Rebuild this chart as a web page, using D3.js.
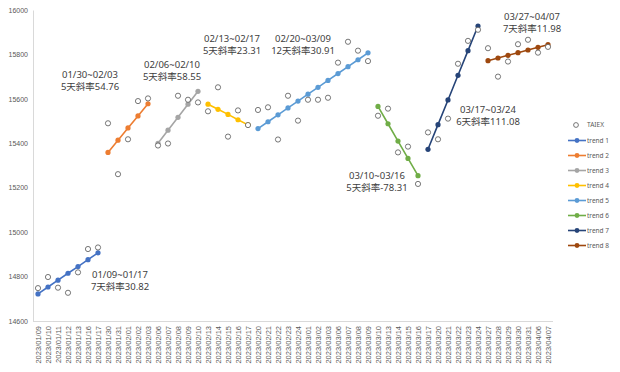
<!DOCTYPE html>
<html>
<head>
<meta charset="utf-8">
<script src="https://cdn.jsdelivr.net/npm/d3@7"></script>
<style>
  body { margin: 0; background: #fff; }
  svg { display: block; font-family: "Noto Sans", "Noto Sans CJK TC", sans-serif; }
</style>
</head>
<body>
<div id="chart"></div>
<script>
// trading days
var dates = ["2023/01/09","2023/01/10","2023/01/11","2023/01/12","2023/01/13","2023/01/16","2023/01/17",
  "2023/01/30","2023/01/31","2023/02/01","2023/02/02","2023/02/03",
  "2023/02/06","2023/02/07","2023/02/08","2023/02/09","2023/02/10",
  "2023/02/13","2023/02/14","2023/02/15","2023/02/16","2023/02/17",
  "2023/02/20","2023/02/21","2023/02/22","2023/02/23","2023/02/24","2023/03/01","2023/03/02","2023/03/03",
  "2023/03/06","2023/03/07","2023/03/08","2023/03/09",
  "2023/03/10","2023/03/13","2023/03/14","2023/03/15","2023/03/16",
  "2023/03/17","2023/03/20","2023/03/21","2023/03/22","2023/03/23","2023/03/24",
  "2023/03/27","2023/03/28","2023/03/29","2023/03/30","2023/03/31","2023/04/06","2023/04/07"];

var taiex = [14748,14798,14750,14727,14819,14924,14931,
  15490,15261,15418,15590,15602,
  15390,15399,15614,15596,15584,
  15544,15652,15430,15548,15482,
  15550,15562,15417,15614,15502,15596,15596,15605,15763,15857,15817,15770,
  15524,15556,15359,15385,15217,
  15449,15418,15511,15758,15861,15911,
  15828,15700,15768,15846,15866,15808,15834];

var trendNames = ["trend 1","trend 2","trend 3","trend 4","trend 5","trend 6","trend 7","trend 8"];
var trendStart = ["2023/01/09","2023/01/30","2023/02/06","2023/02/13","2023/02/20","2023/03/10","2023/03/17","2023/03/27"];
var trendValues = [
  [14722,14753,14784,14815,14845,14876,14907],
  [15359,15414,15469,15523,15578],
  [15400,15459,15517,15576,15634],
  [15576,15553,15530,15506,15483],
  [15466,15497,15528,15559,15590,15621,15652,15683,15714,15745,15776,15807],
  [15566,15488,15410,15332,15254],
  [15373,15484,15595,15706,15817,15928],
  [15772,15784,15796,15808,15820,15832,15844]
];
var trendRange = ["01/09~01/17","01/30~02/03","02/06~02/10","02/13~02/17","02/20~03/09","03/10~03/16","03/17~03/24","03/27~04/07"];
var trendSlope = ["7天斜率30.82","5天斜率54.76","5天斜率58.55","5天斜率23.31","12天斜率30.91","5天斜率-78.31","6天斜率111.08","7天斜率11.98"];
// where each note sits, in chart units
var noteDate = ["2023/01/31","2023/01/16","2023/02/07","2023/02/15","2023/02/24","2023/03/10","2023/03/27","2023/03/31"];
var noteValue = [14807,15710,15755,15873,15873,15252,15553,15968];

var yTicks = [14600,14800,15000,15200,15400,15600,15800,16000];

var colors = ["#4472C4","#ED7D31","#A5A5A5","#FFC000","#5B9BD5","#70AD47","#264478","#9E480E"];
var noteDx = [2,2,4,4,5,-1,0,4];

var width = 620, height = 372;

var svg = d3.select("#chart").append("svg")
    .attr("width", width)
    .attr("height", height);

var x = d3.scalePoint().domain(dates).range([38, 548]);
var y = d3.scaleLinear().domain([14600, 16000]).range([321, 10]);

// axes
svg.append("g")
    .attr("transform", "translate(33,0)")
    .call(d3.axisLeft(y).tickValues(yTicks).tickSize(0).tickPadding(5).tickFormat(d3.format("d")))
    .call(function (g) {
        g.select(".domain").attr("stroke", "#d9d9d9");
        g.selectAll("text").attr("fill", "#595959").style("font-size", "7px");
    });

var xAxis = svg.append("g")
    .attr("transform", "translate(0,321)")
    .call(d3.axisBottom(x).tickSize(0).tickSizeOuter(0));
xAxis.select(".domain").attr("d", "M33,0.5H553").attr("stroke", "#d9d9d9");
xAxis.selectAll("text")
    .attr("fill", "#595959")
    .style("font-size", "7.5px")
    .attr("transform", "rotate(-90)")
    .attr("text-anchor", "end")
    .attr("x", -5)
    .attr("y", 0)
    .attr("dy", "0.35em");

// trend lines
var line = d3.line()
    .x(function (d) { return x(d.date); })
    .y(function (d) { return y(d.value); });

trendValues.forEach(function (vals, k) {
    var s = dates.indexOf(trendStart[k]);
    var pts = vals.map(function (v, j) { return { date: dates[s + j], value: v }; });
    var g = svg.append("g");
    g.append("path")
        .datum(pts)
        .attr("d", line)
        .attr("fill", "none")
        .attr("stroke", colors[k])
        .attr("stroke-width", 1.6);
    g.selectAll("circle").data(pts).enter()
        .append("circle")
        .attr("cx", function (d) { return x(d.date); })
        .attr("cy", function (d) { return y(d.value); })
        .attr("r", 2.6)
        .attr("fill", colors[k]);
});

// index points
svg.append("g").selectAll("circle")
    .data(taiex).enter()
    .append("circle")
    .attr("cx", function (d, i) { return x(dates[i]); })
    .attr("cy", function (d) { return y(d); })
    .attr("r", 2.6)
    .attr("fill", "#fff")
    .attr("stroke", "#555")
    .attr("stroke-width", 0.8);

// notes
trendRange.forEach(function (r, k) {
    var nx = x(noteDate[k]) + noteDx[k];
    var ny = y(noteValue[k]);
    var t = svg.append("text")
        .attr("text-anchor", "middle")
        .attr("fill", "#404040")
        .style("font-size", "9.5px");
    t.append("tspan").attr("x", nx).attr("y", ny).attr("dy", "0.35em").text(r);
    t.append("tspan").attr("x", nx).attr("y", ny + 12).attr("dy", "0.35em").text(trendSlope[k]);
});

// legend
var legend = svg.append("g").attr("transform", "translate(568,125)");
legend.append("circle")
    .attr("cx", 8).attr("cy", 0).attr("r", 2.4)
    .attr("fill", "#fff").attr("stroke", "#555").attr("stroke-width", 0.8);
legend.append("text")
    .attr("x", 19).attr("y", 0).attr("dy", "0.35em")
    .attr("fill", "#595959").style("font-size", "6.5px")
    .text("TAIEX");

trendNames.forEach(function (n, k) {
    var ly = 15.5 + k * 15;
    legend.append("line")
        .attr("x1", 0).attr("x2", 18).attr("y1", ly).attr("y2", ly)
        .attr("stroke", colors[k]).attr("stroke-width", 1.6);
    legend.append("circle")
        .attr("cx", 9).attr("cy", ly).attr("r", 2.4)
        .attr("fill", colors[k]);
    legend.append("text")
        .attr("x", 19).attr("y", ly).attr("dy", "0.35em")
        .attr("fill", "#595959").style("font-size", "6.5px")
        .text(n);
});
</script>
</body>
</html>
